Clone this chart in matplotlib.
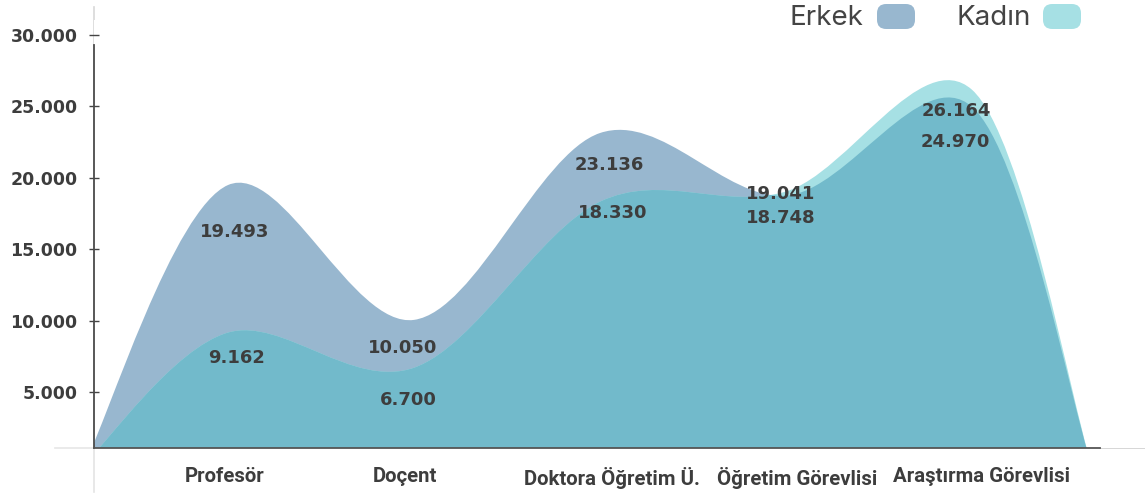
import matplotlib
matplotlib.use("Agg")
import matplotlib.pyplot as plt
from matplotlib.path import Path
from matplotlib.patches import PathPatch, FancyBboxPatch
from matplotlib.lines import Line2D
from matplotlib.transforms import ScaledTranslation

# ---- data -------------------------------------------------------------
categories = ["Profesör", "Doçent", "Doktora Öğretim Ü.", "Öğretim Görevlisi", "Araştırma Görevlisi"]
erkek = [19493, 10050, 23136, 18748, 24970]
kadin = [9162, 6700, 18330, 19041, 26164]
y_ticks = [5000, 10000, 15000, 20000, 25000, 30000]

# ---- style ------------------------------------------------------------
C_ERKEK = "#98b7cf"
C_KADIN = "#a6e0e4"
C_BOTH = "#72bacb"
C_TEXT = "#3d3d3d"
NUM_FONT = ["DejaVu Sans"]
CAT_FONT = ["Roboto", "DejaVu Sans"]

X_START, X_END = -0.77, 4.64          # where the areas meet the baseline
XLIM = (-0.7204, 4.930)
YLIM = (1078, 31050)

# label offsets (points) from (category, value)
erkek_off = [(5, -34), (-8, -20), (7, -23), (-4, -16), (-12, -25)]
kadin_off = [(6, -18), (-4, -23), (9, -8), (-4, -2), (-11, -15)]
# horizontal nudges (pixels) for the category labels
cat_shift = [-3, -9, 12, 11, 10]


def smooth_area(xs, ys, base, k=6.0):
    """Closed Catmull-Rom area path through the points, down to base."""
    pts = list(zip(xs, ys))
    ext = [pts[0]] + pts + [pts[-1]]
    verts = [pts[0]]
    codes = [Path.MOVETO]
    for i in range(1, len(ext) - 2):
        p0, p1, p2, p3 = ext[i - 1], ext[i], ext[i + 1], ext[i + 2]
        c1 = (p1[0] + (p2[0] - p0[0]) / k, p1[1] + (p2[1] - p0[1]) / k)
        c2 = (p2[0] - (p3[0] - p1[0]) / k, p2[1] - (p3[1] - p1[1]) / k)
        verts += [c1, c2, p2]
        codes += [Path.CURVE4] * 3
    verts += [(xs[-1], base), (xs[0], base), pts[0]]
    codes += [Path.LINETO, Path.LINETO, Path.CLOSEPOLY]
    return Path(verts, codes)


fig = plt.figure(figsize=(11.45, 4.94), dpi=100)
ax = fig.add_axes([94 / 1145, 1 - 448 / 494, (1145 - 94) / 1145, (448 - 20) / 494])
ax.set_xlim(*XLIM)
ax.set_ylim(*YLIM)

xpos = list(range(len(categories)))
xs = [X_START] + xpos + [X_END]
path_e = smooth_area(xs, [0] + erkek + [0], 0)
path_k = smooth_area(xs, [0] + kadin + [0], 0)

patch_e = PathPatch(path_e, facecolor=C_ERKEK, edgecolor="none", zorder=1)
patch_k = PathPatch(path_k, facecolor=C_KADIN, edgecolor="none", zorder=2)
ax.add_patch(patch_e)
ax.add_patch(patch_k)
# overlap of both areas
patch_b = PathPatch(path_k, facecolor=C_BOTH, edgecolor="none", zorder=3,
                    transform=ax.transData)
patch_b.set_clip_path(patch_e)
ax.add_patch(patch_b)
patch_b.set_clip_box(ax.bbox)

# value labels
def value_labels(values, offsets):
    for i, v in enumerate(values):
        ax.annotate(f"{v:,}".replace(",", "."), (xpos[i], v), xytext=offsets[i],
                    textcoords="offset points", ha="center", va="center",
                    fontsize=13, fontweight="bold", family=NUM_FONT,
                    color=C_TEXT, zorder=5)

value_labels(erkek, erkek_off)
value_labels(kadin, kadin_off)

# axes
for s in ("top", "right"):
    ax.spines[s].set_visible(False)
ax.spines["left"].set_color("#4a4a4a")
ax.spines["left"].set_linewidth(1.3)
ax.spines["left"].set_bounds(YLIM[0], 29300)
ax.spines["bottom"].set_color("#555555")
ax.spines["bottom"].set_linewidth(1.3)
ax.spines["bottom"].set_bounds(XLIM[0], (1100 - 228) / 186)
ax.spines["left"].set_zorder(6)
ax.spines["bottom"].set_zorder(6)

ax.set_yticks(y_ticks)
ax.set_yticklabels([f"{v:,}".replace(",", ".") for v in y_ticks],
                   fontsize=12.5, fontweight="bold", family=NUM_FONT, color=C_TEXT)
ax.tick_params(axis="y", direction="inout", length=7.5, width=1, color="#444444", pad=8)

ax.set_xticks(xpos)
ax.set_xticklabels(categories, fontsize=14.7, fontweight="bold", family=CAT_FONT, color=C_TEXT)
ax.tick_params(axis="x", length=0, pad=14)
for lab, dx in zip(ax.get_xticklabels(), cat_shift):
    lab.set_transform(lab.get_transform() + ScaledTranslation(dx / 100, 0, fig.dpi_scale_trans))

# faint extensions of the axis lines
def px_line(x0, y0, x1, y1, color, lw=1.2):
    fig.add_artist(Line2D([x0 / 1145, x1 / 1145], [1 - y0 / 494, 1 - y1 / 494],
                          transform=fig.transFigure, color=color, lw=lw, zorder=0))

px_line(94, 7, 94, 45, "#d8d8d8")
px_line(94, 448, 94, 492, "#e4e4e4")
px_line(55, 448, 94, 448, "#e6e6e6")
px_line(1100, 448, 1145, 448, "#d0d0d0")

# legend
def legend_item(label, tx, bx, color):
    fig.text(tx / 1145, 1 - 18 / 494, label, ha="right", va="center",
             fontsize=20, family=["Inter", "DejaVu Sans"], color="#444444")
    fig.add_artist(FancyBboxPatch((bx / 1145, 1 - 29 / 494), 38 / 1145, 25 / 494,
                                  boxstyle="round,pad=0,rounding_size=0.008",
                                  transform=fig.transFigure, facecolor=color,
                                  edgecolor="none", mutation_aspect=1145 / 494))

legend_item("Erkek", 863, 877, C_ERKEK)
legend_item("Kadın", 1031, 1043, C_KADIN)

fig.savefig("out.png", dpi=100)
